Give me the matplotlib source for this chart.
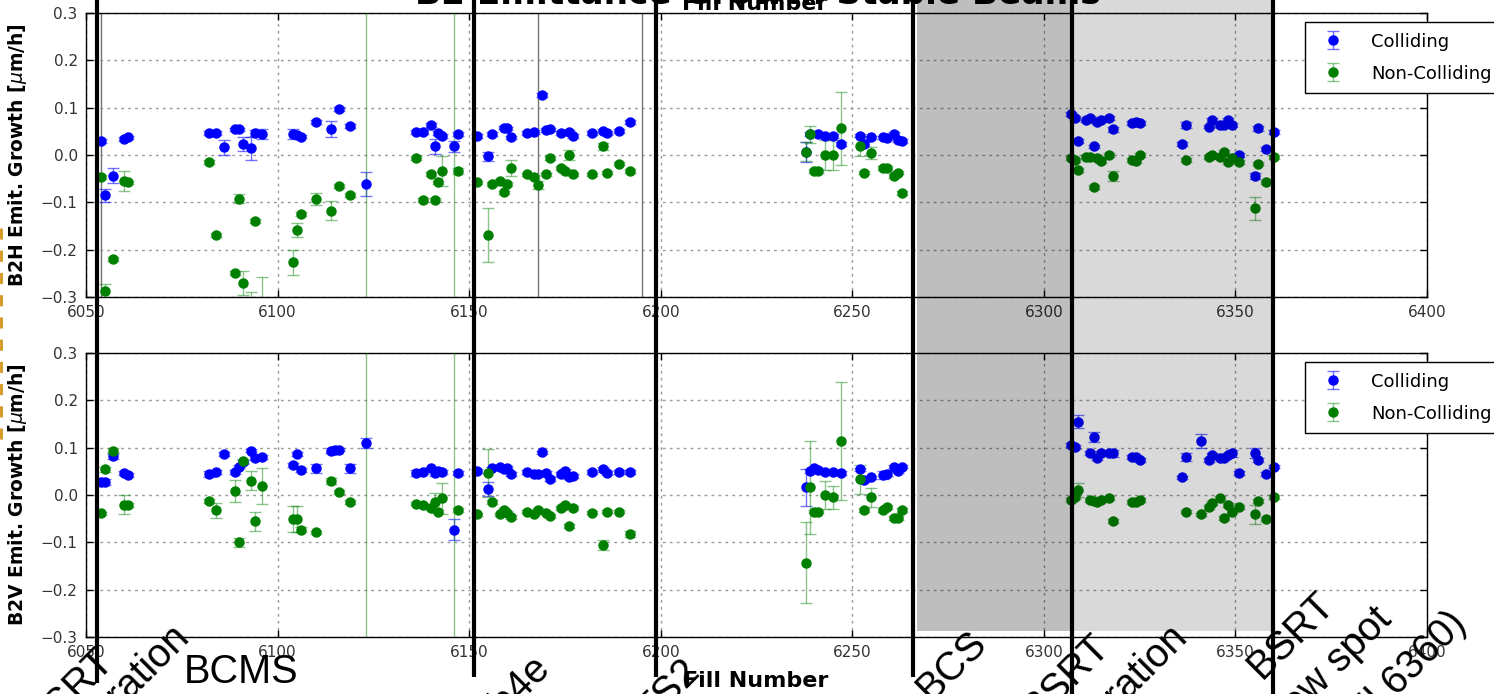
import matplotlib
matplotlib.use('Agg')
import matplotlib.pyplot as plt
from matplotlib.transforms import blended_transform_factory
from matplotlib.patches import Rectangle
from matplotlib.lines import Line2D

# ---------------- data ----------------
# B2H (top panel)
h_col_fill = [6054, 6055, 6057, 6060, 6061, 6082, 6084, 6086, 6089, 6090, 6091, 6093, 6094, 6096,
              6104, 6105, 6106, 6110, 6114, 6116, 6119, 6123, 6136, 6138, 6140, 6141, 6142, 6143,
              6146, 6147, 6152, 6155, 6156, 6159, 6160, 6161, 6165, 6167, 6169, 6170, 6171, 6174,
              6176, 6177, 6182, 6185, 6186, 6189, 6192, 6238, 6239, 6241, 6243, 6245, 6247, 6252,
              6253, 6255, 6258, 6259, 6261, 6262, 6263, 6307, 6308, 6309, 6311, 6312, 6313, 6314,
              6315, 6317, 6318, 6323, 6324, 6325, 6336, 6337, 6343, 6344, 6346, 6347, 6348, 6349,
              6351, 6355, 6356, 6358, 6360]
h_col_val = [0.030, -0.085, -0.044, 0.033, 0.037, 0.047, 0.047, 0.016, 0.054, 0.054, 0.023, 0.014, 0.047, 0.044,
             0.044, 0.043, 0.039, 0.070, 0.054, 0.097, 0.061, -0.061, 0.049, 0.049, 0.063, 0.018, 0.046, 0.040,
             0.018, 0.044, 0.040, -0.003, 0.044, 0.058, 0.056, 0.037, 0.047, 0.049, 0.127, 0.053, 0.054, 0.047,
             0.049, 0.040, 0.047, 0.050, 0.047, 0.050, 0.070, 0.006, 0.044, 0.044, 0.040, 0.040, 0.023, 0.041,
             0.023, 0.037, 0.037, 0.035, 0.044, 0.032, 0.029, 0.087, 0.078, 0.030, 0.074, 0.078, 0.018, 0.070,
             0.074, 0.078, 0.054, 0.067, 0.070, 0.067, 0.023, 0.063, 0.060, 0.074, 0.063, 0.063, 0.074, 0.063,
             0.000, -0.044, 0.056, 0.013, 0.049]
h_col_err = [0.004, 0.014, 0.016, 0.004, 0.004, 0.004, 0.004, 0.015, 0.004, 0.004, 0.015, 0.025, 0.006, 0.010,
             0.010, 0.004, 0.004, 0.004, 0.017, 0.004, 0.004, 0.025, 0.004, 0.004, 0.004, 0.015, 0.004, 0.004,
             0.012, 0.004, 0.004, 0.010, 0.004, 0.004, 0.004, 0.004, 0.004, 0.004, 0.004, 0.004, 0.004, 0.004,
             0.004, 0.004, 0.004, 0.004, 0.004, 0.004, 0.004, 0.021, 0.004, 0.004, 0.004, 0.004, 0.004, 0.004,
             0.004, 0.004, 0.004, 0.004, 0.004, 0.004, 0.004, 0.004, 0.004, 0.004, 0.004, 0.004, 0.004, 0.004,
             0.004, 0.004, 0.006, 0.004, 0.004, 0.004, 0.004, 0.006, 0.004, 0.004, 0.004, 0.004, 0.004, 0.004,
             0.004, 0.006, 0.006, 0.004, 0.004]

h_non_fill = [6054, 6055, 6057, 6060, 6061, 6082, 6084, 6089, 6090, 6091, 6093, 6094, 6096, 6104, 6105,
              6106, 6110, 6114, 6116, 6119, 6123, 6136, 6138, 6140, 6141, 6142, 6143, 6146, 6147, 6152,
              6155, 6156, 6158, 6159, 6160, 6161, 6165, 6167, 6168, 6170, 6171, 6174, 6175, 6176, 6177,
              6182, 6185, 6186, 6189, 6192, 6238, 6239, 6240, 6241, 6243, 6245, 6247, 6252, 6253, 6255,
              6258, 6259, 6261, 6262, 6263, 6307, 6308, 6309, 6311, 6312, 6313, 6314, 6315, 6317, 6318,
              6323, 6324, 6325, 6337, 6343, 6344, 6346, 6347, 6348, 6349, 6351, 6355, 6356, 6358, 6360]
h_non_val = [-0.047, -0.287, -0.220, -0.055, -0.058, -0.014, -0.169, -0.250, -0.092, -0.270, -0.320, -0.139, -0.340, -0.227, -0.158,
             -0.125, -0.093, -0.118, -0.065, -0.085, -0.800, -0.007, -0.095, -0.040, -0.095, -0.058, -0.034, -0.800, -0.034, -0.058,
             -0.169, -0.061, -0.055, -0.079, -0.061, -0.028, -0.041, -0.047, -0.063, -0.041, -0.007, -0.027, -0.034, 0.000, -0.041,
             -0.041, 0.018, -0.037, -0.018, -0.034, 0.007, 0.044, -0.034, -0.033, 0.000, 0.000, 0.056, 0.018, -0.037, 0.004,
             -0.027, -0.028, -0.044, -0.037, -0.081, -0.007, -0.011, -0.032, -0.004, -0.004, -0.068, -0.007, -0.012, 0.000, -0.044,
             -0.011, -0.012, 0.000, -0.011, -0.004, 0.000, -0.004, 0.007, -0.014, -0.007, -0.014, -0.113, -0.018, -0.058, -0.004]
h_non_err = [0.004, 0.015, 0.004, 0.022, 0.004, 0.004, 0.004, 0.004, 0.010, 0.025, 0.030, 0.004, 0.083, 0.027, 0.015,
             0.004, 0.012, 0.020, 0.004, 0.004, 1.500, 0.004, 0.004, 0.004, 0.004, 0.004, 0.032, 1.500, 0.006, 0.004,
             0.057, 0.004, 0.004, 0.004, 0.004, 0.017, 0.004, 0.004, 0.008, 0.004, 0.004, 0.004, 0.004, 0.010, 0.004,
             0.004, 0.008, 0.004, 0.004, 0.004, 0.020, 0.018, 0.004, 0.004, 0.032, 0.032, 0.078, 0.020, 0.004, 0.013,
             0.004, 0.004, 0.004, 0.004, 0.004, 0.004, 0.004, 0.004, 0.004, 0.004, 0.004, 0.004, 0.004, 0.004, 0.010,
             0.004, 0.004, 0.004, 0.004, 0.004, 0.004, 0.004, 0.004, 0.004, 0.004, 0.004, 0.024, 0.004, 0.004, 0.004]

h_gray_fills = [6054, 6168, 6195]

# B2V (bottom panel)
v_col_fill = [6054, 6055, 6057, 6060, 6061, 6082, 6084, 6086, 6089, 6090, 6091, 6093, 6094, 6096,
              6104, 6105, 6106, 6110, 6114, 6115, 6116, 6119, 6123, 6136, 6138, 6140, 6141, 6142,
              6143, 6146, 6147, 6152, 6155, 6156, 6158, 6159, 6160, 6161, 6165, 6167, 6168, 6169,
              6170, 6171, 6174, 6175, 6176, 6177, 6182, 6185, 6186, 6189, 6192, 6238, 6239, 6240,
              6241, 6243, 6245, 6247, 6252, 6253, 6255, 6258, 6259, 6261, 6262, 6263, 6307, 6308,
              6309, 6312, 6313, 6314, 6315, 6317, 6318, 6323, 6324, 6325, 6336, 6337, 6341, 6343,
              6344, 6346, 6347, 6348, 6349, 6351, 6355, 6356, 6358, 6360]
v_col_val = [0.028, 0.028, 0.083, 0.046, 0.043, 0.044, 0.049, 0.087, 0.049, 0.060, 0.070, 0.094, 0.078, 0.080,
             0.063, 0.087, 0.053, 0.056, 0.094, 0.095, 0.096, 0.056, 0.110, 0.046, 0.049, 0.056, 0.046, 0.051,
             0.049, -0.073, 0.046, 0.051, 0.013, 0.056, 0.060, 0.055, 0.058, 0.044, 0.049, 0.044, 0.044, 0.090,
             0.046, 0.033, 0.044, 0.050, 0.037, 0.040, 0.049, 0.054, 0.047, 0.049, 0.049, 0.016, 0.050, 0.056,
             0.053, 0.049, 0.049, 0.046, 0.054, 0.032, 0.037, 0.042, 0.044, 0.060, 0.051, 0.060, 0.106, 0.101,
             0.155, 0.088, 0.123, 0.078, 0.089, 0.088, 0.088, 0.081, 0.081, 0.074, 0.037, 0.080, 0.114, 0.074,
             0.085, 0.078, 0.078, 0.085, 0.088, 0.046, 0.089, 0.074, 0.044, 0.060]
v_col_err = [0.006, 0.006, 0.006, 0.004, 0.004, 0.006, 0.004, 0.004, 0.004, 0.004, 0.004, 0.004, 0.004, 0.004,
             0.004, 0.004, 0.004, 0.010, 0.006, 0.006, 0.004, 0.010, 0.010, 0.006, 0.004, 0.004, 0.006, 0.004,
             0.004, 0.023, 0.004, 0.004, 0.015, 0.004, 0.004, 0.004, 0.004, 0.004, 0.004, 0.004, 0.004, 0.004,
             0.004, 0.004, 0.004, 0.004, 0.004, 0.004, 0.004, 0.006, 0.004, 0.004, 0.004, 0.039, 0.004, 0.004,
             0.004, 0.004, 0.004, 0.004, 0.004, 0.004, 0.004, 0.008, 0.004, 0.004, 0.004, 0.004, 0.004, 0.004,
             0.013, 0.004, 0.010, 0.004, 0.004, 0.004, 0.008, 0.004, 0.004, 0.004, 0.004, 0.008, 0.015, 0.004,
             0.004, 0.004, 0.004, 0.004, 0.008, 0.004, 0.010, 0.004, 0.004, 0.004]

v_non_fill = [6054, 6055, 6057, 6060, 6061, 6082, 6084, 6089, 6090, 6091, 6093, 6094, 6096, 6104, 6105,
              6106, 6110, 6114, 6116, 6119, 6123, 6136, 6138, 6140, 6141, 6142, 6143, 6146, 6147, 6152,
              6155, 6156, 6158, 6159, 6160, 6161, 6165, 6167, 6168, 6170, 6171, 6174, 6175, 6176, 6177,
              6182, 6185, 6186, 6189, 6192, 6238, 6239, 6240, 6241, 6243, 6245, 6247, 6252, 6253, 6255,
              6258, 6259, 6261, 6262, 6263, 6307, 6308, 6309, 6312, 6313, 6314, 6315, 6317, 6318, 6323,
              6324, 6325, 6337, 6341, 6343, 6344, 6346, 6347, 6348, 6349, 6351, 6355, 6356, 6358, 6360]
v_non_val = [-0.039, 0.054, 0.093, -0.021, -0.021, -0.012, -0.032, 0.009, -0.100, 0.072, 0.030, -0.055, 0.019, -0.051, -0.051,
             -0.073, -0.079, 0.030, 0.006, -0.014, -0.800, -0.018, -0.021, -0.028, -0.015, -0.035, -0.007, -0.800, -0.032, -0.041,
             0.047, -0.014, -0.041, -0.032, -0.037, -0.046, -0.035, -0.041, -0.032, -0.037, -0.044, -0.027, -0.021, -0.065, -0.028,
             -0.037, -0.106, -0.035, -0.035, -0.082, -0.143, 0.016, -0.035, -0.035, 0.000, -0.005, 0.114, 0.033, -0.032, -0.005,
             -0.032, -0.025, -0.048, -0.048, -0.032, -0.011, -0.004, 0.011, -0.011, -0.012, -0.014, -0.011, -0.007, -0.055, -0.014,
             -0.014, -0.011, -0.035, -0.041, -0.025, -0.017, -0.007, -0.048, -0.021, -0.035, -0.025, -0.041, -0.012, -0.051, -0.004]
v_non_err = [0.004, 0.006, 0.006, 0.020, 0.004, 0.004, 0.016, 0.023, 0.010, 0.004, 0.020, 0.020, 0.037, 0.028, 0.028,
             0.006, 0.004, 0.006, 0.004, 0.004, 1.500, 0.004, 0.004, 0.004, 0.020, 0.004, 0.033, 1.500, 0.004, 0.004,
             0.051, 0.004, 0.004, 0.004, 0.004, 0.004, 0.004, 0.004, 0.004, 0.004, 0.004, 0.004, 0.004, 0.004, 0.004,
             0.004, 0.010, 0.004, 0.004, 0.006, 0.086, 0.098, 0.004, 0.004, 0.030, 0.025, 0.124, 0.030, 0.004, 0.020,
             0.004, 0.004, 0.004, 0.004, 0.004, 0.004, 0.004, 0.015, 0.004, 0.004, 0.004, 0.004, 0.004, 0.004, 0.004,
             0.004, 0.004, 0.004, 0.004, 0.004, 0.004, 0.004, 0.004, 0.004, 0.004, 0.004, 0.020, 0.004, 0.004, 0.004]

# overlay annotations: event fills (black vertical lines) and shaded periods
event_fills = [6052.9, 6151.3, 6198.8, 6265.9, 6307.4, 6359.8]
event_bottom_px = [683, 677, 677, 677, 694, 694]
dark_period = (6266.9, 6307.4)
light_period = (6307.4, 6359.3)

x_ticks = [6050, 6100, 6150, 6200, 6250, 6300, 6350, 6400]
y_ticks = [-0.3, -0.2, -0.1, 0.0, 0.1, 0.2, 0.3]

# ---------------- figure ----------------
W, H = 1494, 694
fig = plt.figure(figsize=(W / 100, H / 100), dpi=100)
plt.rcParams['font.family'] = ['DejaVu Sans']


def px_rect(l, t, r, b):
    return [l / W, 1 - b / H, (r - l) / W, (b - t) / H]


ax1 = fig.add_axes(px_rect(86, 13, 1427, 297))
ax2 = fig.add_axes(px_rect(86, 353, 1427, 637))

blue = '#0000ff'
green = '#008000'

panels = [
    (ax1, h_col_fill, h_col_val, h_col_err, h_non_fill, h_non_val, h_non_err, r'B2H Emit. Growth [$\mu$m/h]'),
    (ax2, v_col_fill, v_col_val, v_col_err, v_non_fill, v_non_val, v_non_err, r'B2V Emit. Growth [$\mu$m/h]'),
]

for ax, cf, cv, ce, nf, nv, ne, ylab in panels:
    ax.errorbar(cf, cv, yerr=ce, fmt='o', color=blue, mec=blue, ms=6.5,
                ecolor=(0, 0, 1, 0.55), elinewidth=1, capsize=4, capthick=1,
                label='Colliding', zorder=3)
    ax.errorbar(nf, nv, yerr=ne, fmt='o', color=green, mec=green, ms=6.5,
                ecolor=(0, 0.5, 0, 0.45), elinewidth=1, capsize=4, capthick=1,
                label='Non-Colliding', zorder=3)
    ax.set_xlim(6050, 6400)
    ax.set_ylim(-0.3, 0.3)
    ax.set_xticks(x_ticks)
    ax.set_yticks(y_ticks)
    ax.ticklabel_format(axis='x', useOffset=False)
    ax.grid(True, linestyle=(0, (2, 3)), color='0.6', linewidth=1)
    ax.set_axisbelow(True)
    ax.tick_params(direction='in', top=True, right=True, length=5, width=1,
                   labelsize=11, labelcolor='#333333', pad=6)
    for sp in ax.spines.values():
        sp.set_linewidth(1)
        sp.set_color('black')
    ax.set_ylabel(ylab, fontsize=13.5, fontweight='bold')
    ax.yaxis.set_label_coords(-0.0425, 0.5)
    leg = ax.legend(loc='upper left', bbox_to_anchor=(0.909, 0.968), borderaxespad=0,
                    fontsize=13, numpoints=1, fancybox=False, edgecolor='black',
                    framealpha=1, handletextpad=1.1, labelspacing=0.78, borderpad=0.58)
    leg.get_frame().set_linewidth(1)

for f in h_gray_fills:
    ax1.axvline(f, color='0.45', linewidth=1, zorder=2)

# titles / labels
fig.text(758 / W, 1 - 4 / H, 'B2 Emittance Growth Stable Beams', ha='center', va='baseline',
         fontsize=24.7, fontweight='bold', zorder=5)
fig.text(755 / W, 1 - 10 / H, 'Fill Number', ha='center', va='baseline',
         fontsize=16, fontweight='bold', zorder=6)
fig.text(756 / W, 1 - 687 / H, 'Fill Number', ha='center', va='baseline',
         fontsize=16, fontweight='bold', zorder=6)

# overlay: shaded periods and event lines
btr = blended_transform_factory(ax1.transData, fig.transFigure)
shade_bottom = 1 - 631 / H
fig.add_artist(Rectangle((dark_period[0], shade_bottom), dark_period[1] - dark_period[0], 1 - shade_bottom,
                         transform=btr, facecolor='black', alpha=0.255, linewidth=0, zorder=12))
fig.add_artist(Rectangle((light_period[0], shade_bottom), light_period[1] - light_period[0], 1 - shade_bottom,
                         transform=btr, facecolor='black', alpha=0.15, linewidth=0, zorder=12))
for f, b in zip(event_fills, event_bottom_px):
    fig.add_artist(Line2D([f, f], [1.0, 1 - b / H], transform=btr, color='black',
                          linewidth=3, solid_capstyle='butt', zorder=15))

# small orange artefact at the left edge
fig.add_artist(Line2D([1 / W, 1 / W], [1 - 228 / H, 1 - 440 / H], color='#d4951c',
                      linewidth=2, linestyle=(0, (4, 4)), zorder=15))

# annotation texts (rotated 45 deg, partly cut by the figure border)
ann_kw = dict(rotation=45, rotation_mode='anchor', ha='right', va='baseline',
              fontsize=28.5, family=['Liberation Sans', 'DejaVu Sans'], color='black', zorder=20)
annotations = [
    ('BSRT', 115, 662), ('calibration', 191, 638),
    ('8b4e', 552, 670), ('TS2', 701, 674), ('BCS', 988, 644),
    ('BSRT', 1111, 648), ('calibration', 1189, 638),
    ('BSRT', 1336, 606), ('new spot', 1393, 621), ('(from fill 6360)', 1468, 625),
]
for s, x, y in annotations:
    fig.text(x / W, 1 - y / H, s, **ann_kw)
fig.text(184 / W, 1 - 683 / H, 'BCMS', ha='left', va='baseline', fontsize=28.5,
         family=['Liberation Sans', 'DejaVu Sans'], color='black', zorder=20)

fig.savefig('out.png', dpi=100)
